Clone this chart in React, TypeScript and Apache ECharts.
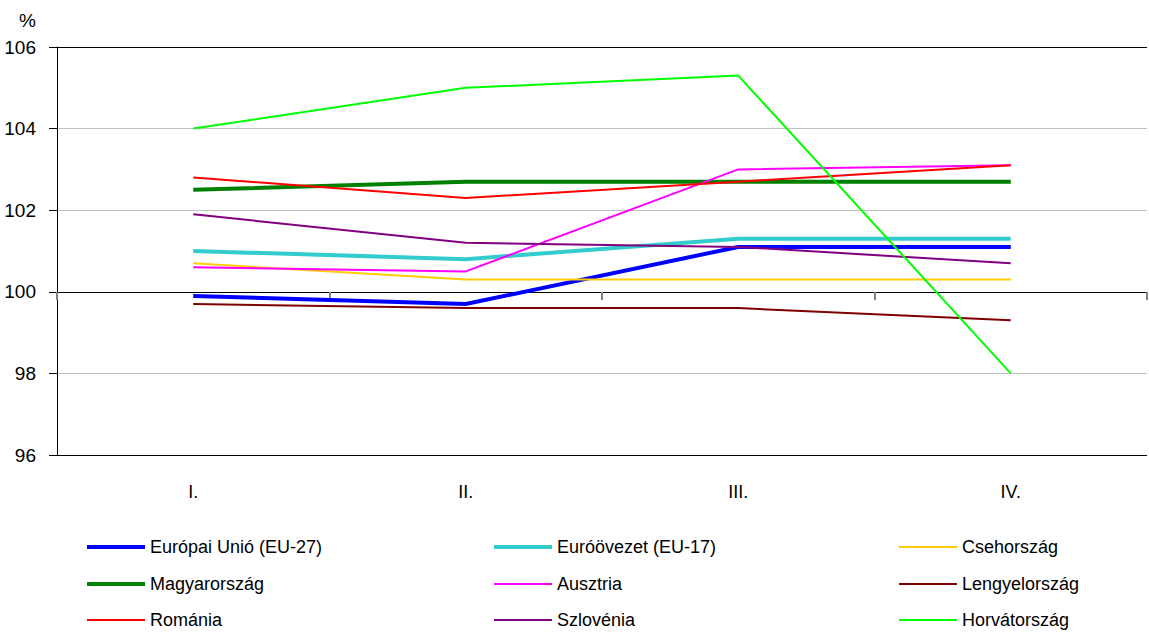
import React, { useEffect, useRef } from "react";
import * as echarts from "echarts";

const categories = ["I.", "II.", "III.", "IV."];
const yTicks = { min: 96, max: 106, interval: 2 };

const eu27 = [99.9, 99.7, 101.1, 101.1];
const euroArea = [101.0, 100.8, 101.3, 101.3];
const czech = [100.7, 100.3, 100.3, 100.3];
const hungary = [102.5, 102.7, 102.7, 102.7];
const austria = [100.6, 100.5, 103.0, 103.1];
const poland = [99.7, 99.6, 99.6, 99.3];
const romania = [102.8, 102.3, 102.7, 103.1];
const slovenia = [101.9, 101.2, 101.1, 100.7];
const croatia = [104.0, 105.0, 105.3, 98.0];

const seriesDefs = [
  { name: "Európai Unió (EU-27)", data: eu27, color: "#0000FF", width: 4, col: 0, row: 0 },
  { name: "Euróövezet (EU-17)", data: euroArea, color: "#33CCCC", width: 4, col: 1, row: 0 },
  { name: "Csehország", data: czech, color: "#FFCC00", width: 2, col: 2, row: 0 },
  { name: "Magyarország", data: hungary, color: "#008000", width: 4, col: 0, row: 1 },
  { name: "Ausztria", data: austria, color: "#FF00FF", width: 2, col: 1, row: 1 },
  { name: "Lengyelország", data: poland, color: "#800000", width: 2, col: 2, row: 1 },
  { name: "Románia", data: romania, color: "#FF0000", width: 2, col: 0, row: 2 },
  { name: "Szlovénia", data: slovenia, color: "#800080", width: 2, col: 1, row: 2 },
  { name: "Horvátország", data: croatia, color: "#00FF00", width: 2, col: 2, row: 2 },
];

const FONT = "'Liberation Sans', Arial, sans-serif";
const colLeft = [87, 494, 899];
const rowCenter = [547, 584, 620];

export default function App() {
  const ref = useRef<HTMLDivElement>(null);
  useEffect(() => {
    if (!ref.current) return;
    const chart = echarts.init(ref.current, null, { renderer: "svg" });
    const option: any = {
      animation: false,
      backgroundColor: "#ffffff",
      textStyle: { fontFamily: FONT },
      title: {
        text: "%",
        left: 14,
        top: 6,
        textStyle: { fontFamily: FONT, fontSize: 19, fontWeight: "normal", color: "#000" },
      },
      grid: [
        { left: 57, right: 2, top: 47, bottom: 177 },
        { left: 57, right: 2, top: 47, bottom: 340 },
      ],
      xAxis: [
        {
          type: "category",
          gridIndex: 0,
          data: categories,
          boundaryGap: true,
          axisLine: { show: false },
          axisTick: { show: false },
          axisLabel: { margin: 28, fontFamily: FONT, fontSize: 18, color: "#000" },
        },
        {
          type: "category",
          gridIndex: 1,
          data: categories,
          boundaryGap: true,
          axisLine: { show: true, lineStyle: { color: "#000", width: 1 } },
          axisTick: { show: true, inside: false, length: 8, lineStyle: { color: "#808080", width: 2 } },
          axisLabel: { show: false },
        },
      ],
      yAxis: [
        {
          type: "value",
          gridIndex: 0,
          min: yTicks.min,
          max: yTicks.max,
          interval: yTicks.interval,
          axisLine: { show: true, lineStyle: { color: "#000", width: 1 } },
          axisTick: { show: true, inside: false, length: 8, lineStyle: { color: "#000" } },
          axisLabel: { margin: 21, fontFamily: FONT, fontSize: 19, color: "#000" },
          splitLine: {
            show: true,
            lineStyle: { color: ["#000000", "#c0c0c0", "#000000", "#c0c0c0", "#c0c0c0", "#000000"], width: 1 },
          },
        },
        {
          type: "value",
          gridIndex: 1,
          min: 0,
          max: 1,
          show: false,
        },
      ],
      legend: seriesDefs.map((s) => ({
        data: [{ name: s.name, icon: "rect" }],
        left: colLeft[s.col],
        top: rowCenter[s.row] - 10,
        itemWidth: 58,
        itemHeight: s.width,
        itemGap: 0,
        padding: 0,
        selectedMode: false,
        itemStyle: { color: s.color, borderWidth: 0 },
        textStyle: { fontFamily: FONT, fontSize: 18, color: "#000", lineHeight: 20 },
      })),
      series: seriesDefs.map((s) => ({
        name: s.name,
        type: "line",
        xAxisIndex: 0,
        yAxisIndex: 0,
        data: s.data,
        symbol: "none",
        showSymbol: false,
        color: s.color,
        lineStyle: { color: s.color, width: s.width },
        itemStyle: { color: s.color },
      })),
    };
    chart.setOption(option);
    return () => chart.dispose();
  }, []);
  return (
    <div
      ref={ref}
      style={{ position: "absolute", left: 0, top: 0, width: 1149, height: 632, background: "#fff" }}
    />
  );
}
